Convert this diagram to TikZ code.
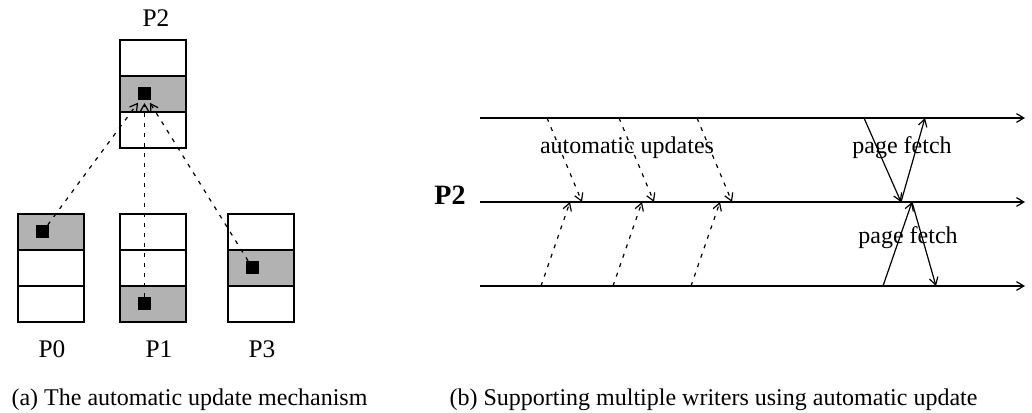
\documentclass[tikz,border=0pt]{standalone}
\usepackage{fontspec}
\setmainfont{Liberation Serif}
\usetikzlibrary{arrows.meta,calc}

\begin{document}
\begin{tikzpicture}[
    x=0.75pt, y=-0.75pt,
    >={Straight Barb[length=5.5pt,width=6.5pt]},
    line width=0.9pt,
    every node/.style={font=\fontsize{18}{20}\selectfont},
    cell/.style={draw,line width=1pt,minimum width=49.5pt,minimum height=27pt,inner sep=0pt},
    blk/.style={fill=black,minimum size=9.75pt,inner sep=0pt},
    upd/.style={->,dash pattern=on 3pt off 4.5pt},
    tag/.style={anchor=base,font=\fontsize{19}{21}\selectfont},
  ]
  \definecolor{shade}{gray}{0.7}
  \useasboundingbox (0,0) rectangle (1032,413);

  % ---- (a) page stacks ----------------------------------------------
  \foreach \n/\x/\y/\g in {p2/153/40/2, p0/51/214/1, p1/153/214/3, p3/261/214/2}{
    \foreach \r in {1,2,3}{
      \ifnum\r=\g \def\cf{shade}\else\def\cf{white}\fi
      \node[cell,fill=\cf] (\n-\r) at (\x,\y+36*\r-18) {};
    }
    \node[blk] (\n-d) at ($(\n-\g)+(-8.5,0)$) {};
  }

  \node[tag] (l2) at (156,27) {P2};
  \node[tag] (l0) at (52,358) {P0};
  \node[tag] (l1) at (159,358) {P1};
  \node[tag] (l3) at (262,358) {P3};

  % updates sent to the home copy
  \foreach \s in {p0,p1,p3}
    \draw[upd,shorten >=1.5pt] (\s-d) -- (p2-d);

  % ---- (b) time lines -----------------------------------------------
  \coordinate (t0) at (480,118); \coordinate (t1) at (1025,118);
  \coordinate (m0) at (480,202); \coordinate (m1) at (1025,202);
  \coordinate (b0) at (480,286); \coordinate (b1) at (1025,286);
  \foreach \l in {t,m,b}
    \draw[->] (\l0) -- (\l1);

  \node[anchor=base,font=\fontsize{21}{24}\selectfont\bfseries] (home) at (450,205) {P2};

  % automatic updates, from above and from below
  \foreach \i/\a/\b in {1/547/582, 2/619/654, 3/697/732}{
    \coordinate (ts\i) at (\a,118);
    \coordinate (me\i) at (\b,202);
    \draw[upd] (ts\i) -- (me\i);
  }
  \foreach \i/\a/\b in {1/541/570, 2/613/642, 3/691/720}{
    \coordinate (bs\i) at (\a,286);
    \coordinate (mf\i) at (\b,202);
    \draw[upd] (bs\i) -- (mf\i);
  }
  \node[anchor=base] (au) at (627,154) {automatic updates};

  % page fetches
  \coordinate (f1) at (864,118); \coordinate (f2) at (901,202); \coordinate (f3) at (925,118);
  \coordinate (g1) at (883,286); \coordinate (g2) at (912,202); \coordinate (g3) at (936,286);
  \draw[->] (f1) -- (f2);
  \draw[->] (f2) -- (f3);
  \draw[->] (g1) -- (g2);
  \draw[->] (g2) -- (g3);
  \node[anchor=base] (pf1) at (902,154) {page fetch};
  \node[anchor=base] (pf2) at (908,244) {page fetch};

  % ---- captions -----------------------------------------------------
  \node[anchor=base] (capa) at (189.5,405) {(a) The automatic update mechanism};
  \node[anchor=base] (capb) at (713.5,405) {(b) Supporting multiple writers using automatic update};

\end{tikzpicture}
\end{document}
